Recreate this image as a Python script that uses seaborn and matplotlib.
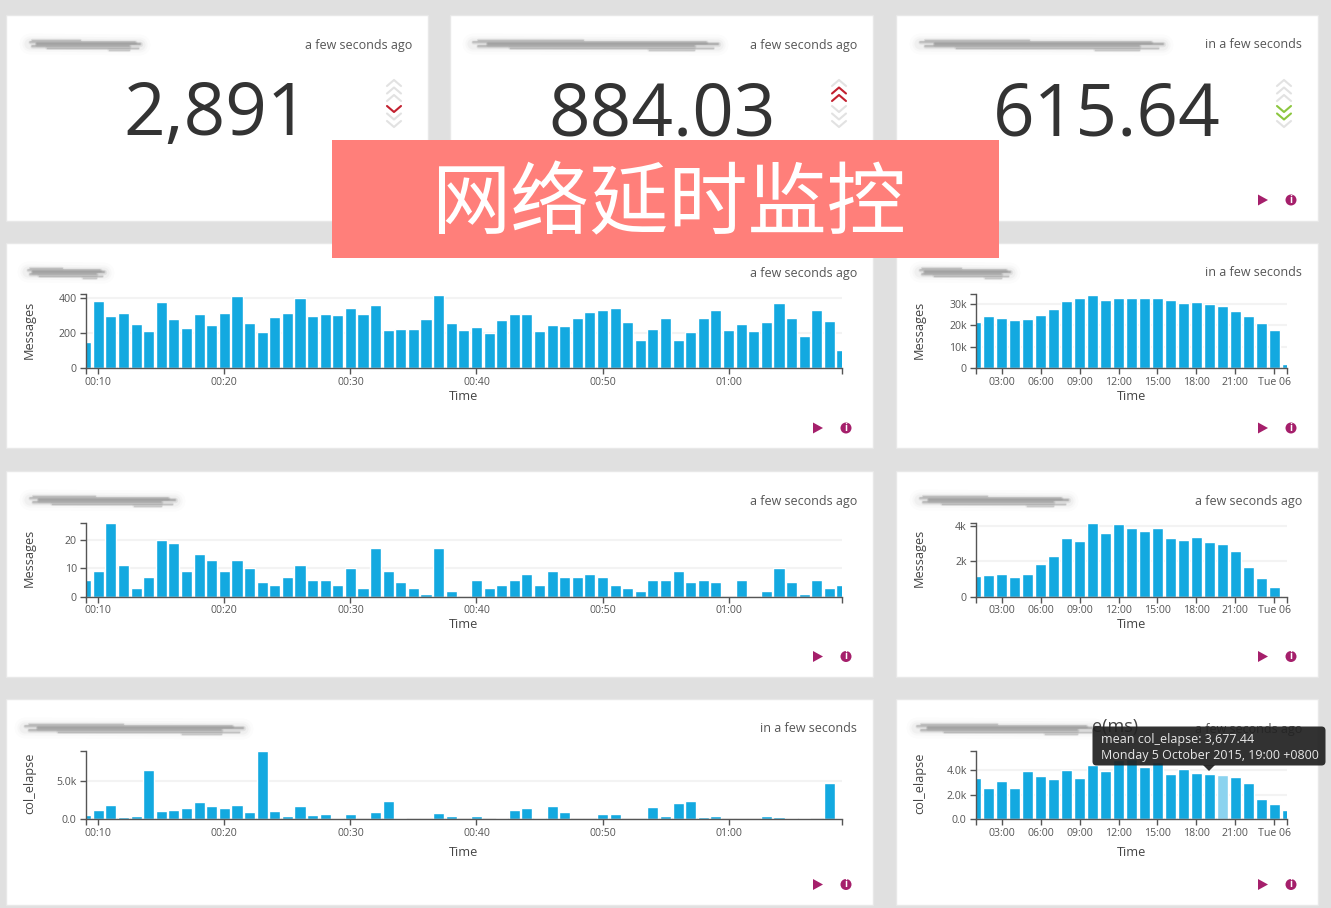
import matplotlib
matplotlib.use('Agg')
import matplotlib.pyplot as plt
from matplotlib.patches import Rectangle, FancyBboxPatch, Polygon, Circle
import numpy as np
import seaborn as sns

sns.set_theme(style='white')
plt.rcParams['font.family'] = ['Open Sans', 'DejaVu Sans']

W, H = 1331, 908

# ---- data ----
messages_minute = [152, 383, 299, 318, 253, 211, 377, 282, 229, 312, 246, 318, 413, 259, 206, 293,
                   318, 400, 299, 312, 307, 343, 312, 360, 217, 223, 223, 282, 419, 259, 217, 234,
                   200, 276, 312, 312, 211, 246, 240, 288, 324, 335, 347, 265, 164, 223, 288, 164,
                   206, 288, 335, 217, 251, 211, 265, 371, 288, 187, 335, 270, 105]
errors_minute = [6, 9, 26, 11, 3, 7, 20, 19, 9, 15, 13, 9, 13, 10, 5, 4, 7, 11, 6, 6, 4, 10, 3, 17,
                 9, 5, 3, 1, 17, 2, 0, 6, 3, 4, 6, 8, 4, 9, 7, 7, 8, 7, 4, 3, 2, 6, 6, 9, 5, 6, 5,
                 0, 6, 0, 2, 10, 5, 1, 6, 3, 4]
elapse_minute = [610, 1260, 1830, 300, 480, 6430, 1130, 1260, 1435, 2220, 1700, 1435, 1830, 1000,
                 8870, 1130, 480, 1700, 610, 740, 220, 740, 90, 1000, 2350, 220, 80, 80, 870, 480,
                 40, 480, 40, 220, 1170, 1435, 220, 1700, 1000, 40, 40, 740, 740, 40, 40, 1570,
                 480, 2090, 2350, 350, 480, 40, 40, 40, 480, 350, 220, 220, 40, 4785, 170]
messages_hour = [21600, 24400, 23500, 22500, 23000, 25000, 27800, 31300, 32650, 34200, 31700, 32650,
                 32650, 32650, 32650, 31700, 30300, 30800, 29900, 28900, 26900, 24400, 21100, 17700, 2200]
errors_hour = [1165, 1220, 1280, 1110, 1280, 1860, 2275, 3330, 3160, 4135, 3570, 4100, 3850, 3685,
               3850, 3330, 3215, 3385, 3100, 2990, 2575, 1690, 1050, 525, 40]
elapse_hour = [3320, 2570, 3080, 2570, 3920, 3510, 3240, 4000, 3320, 4430, 3920, 4800, 4900, 4270,
               4670, 3672, 4080, 3750, 3677, 3560, 3400, 2920, 1650, 1215, 730]

minute_ticks = [0, 1, 11, 21, 31, 41, 51, 60]
minute_labels = ['', '00:10', '00:20', '00:30', '00:40', '00:50', '01:00', '']
hour_ticks = [0, 2, 5, 8, 11, 14, 17, 20, 23, 24]
hour_labels = ['', '03:00', '06:00', '09:00', '12:00', '15:00', '18:00', '21:00', 'Tue 06', '']

big_numbers = ['2,891', '884.03', '615.64']
stamp_ago = 'a few seconds ago'
stamp_in = 'in a few seconds'
tooltip_lines = ['mean col_elapse: 3,677.44', 'Monday 5 October 2015, 19:00 +0800']
banner_text = '网络延时监控'

BLUE = '#13a9e0'
LIGHT_BLUE = '#8bd3ef'
PURPLE = '#a51f6b'
TEXT = '#555555'

fig = plt.figure(figsize=(W / 100, H / 100), dpi=100, facecolor='#e0e0e0')


def pixel_axes(zorder):
    ax = fig.add_axes([0, 0, 1, 1], zorder=zorder)
    ax.set_xlim(0, W)
    ax.set_ylim(H, 0)
    ax.axis('off')
    return ax


back = pixel_axes(-1)
front = pixel_axes(10)


def panel(x0, x1, y0, y1):
    back.add_patch(Rectangle((x0, y0), x1 - x0, y1 - y0, fc='white', ec='#e8e8e8', lw=1))


def smudge(ax, x0, x1, y):
    # the dashboard titles are blurred out in the screenshot
    for lw, a in [(15, .02), (11, .03), (8, .05)]:
        ax.plot([x0, x1], [y, y + 1], color='#777777', lw=lw, alpha=a, solid_capstyle='round')
    L = x1 - x0
    strokes = [(-4, .02, .45, .8, .16), (-2, .0, .95, 1.1, .2), (0, .06, 1.0, 1.3, .26),
               (2, .02, .9, 1.1, .22), (4, .15, .98, .9, .18), (6, .72, .9, .9, .16)]
    for dy, a, b, lw, alpha in strokes:
        # stacked widths to get the soft edge
        for k in [1, 2, 3]:
            ax.plot([x0 + a * L, x0 + b * L], [y + dy, y + dy], color='#555555', lw=lw * k, alpha=alpha / k,
                    solid_capstyle='round')


def stamp(right, y, text):
    back.text(right, y, text, ha='right', va='center', fontsize=9.0, color='#555555')


def icons(x_play, x_info, y):
    back.add_patch(Polygon([(x_play - 5, y - 5.5), (x_play + 5, y), (x_play - 5, y + 5.5)], fc=PURPLE, ec='none'))
    back.add_patch(Circle((x_info, y), 5.5, fc=PURPLE, ec='none'))
    back.text(x_info, y + .3, 'i', ha='center', va='center', fontsize=7, fontweight='bold', color='white')


def chevrons(x, y_mid, up_on, down_on, on_color):
    for i, y in enumerate([y_mid - 26, y_mid - 18.5, y_mid - 11]):
        color = on_color if i in up_on else '#e2e2e2'
        back.plot([x - 7, x, x + 7], [y + 3, y - 3, y + 3], color=color, lw=1.5, zorder=3 if i in up_on else 2)
    for i, y in enumerate([y_mid + 0, y_mid + 7.5, y_mid + 15]):
        color = on_color if i in down_on else '#e2e2e2'
        back.plot([x - 7, x, x + 7], [y - 3, y + 3, y - 3], color=color, lw=1.5, zorder=3 if i in down_on else 2)


def bars(x0, x1, y_top, y_base, values, ymax, yticks, ylabels, xticks, xlabels, ylabel, time_gap):
    ax = fig.add_axes([x0 / W, 1 - y_base / H, (x1 - x0) / W, (y_base - y_top) / H], facecolor='none')
    idx = np.arange(len(values))
    ax.hlines(yticks, 0, len(values) - 1, color='#f3f3f3', lw=1.5, zorder=0)
    sns.barplot(x=idx, y=values, ax=ax, color=BLUE, saturation=1, width=.88, native_scale=True, zorder=2)
    ax.set_xlim(0, len(values) - 1)
    ax.set_ylim(0, ymax)
    ax.set_xticks(xticks)
    ax.set_xticklabels(xlabels)
    ax.set_yticks(list(yticks) + [ymax])
    ax.set_yticklabels(list(ylabels) + [''])
    ax.tick_params(axis='x', length=4, width=1, color='#555555', labelsize=7.6, labelcolor=TEXT, pad=2.3, bottom=True)
    ax.tick_params(axis='y', length=4.5, width=1, color='#555555', labelsize=7.6, labelcolor=TEXT, pad=2, left=True)
    sns.despine(ax=ax)
    for s in ['left', 'bottom']:
        ax.spines[s].set_color('#555555')
        ax.spines[s].set_linewidth(1)
    h = y_base - y_top
    ax.set_xlabel('Time', fontsize=9.2, color='#444444', va='center')
    ax.xaxis.set_label_coords(.5, -(time_gap + 1) / h)
    ax.set_ylabel(ylabel, fontsize=9.2, color='#444444', va='center')
    ax.yaxis.set_label_coords(-56 / (x1 - x0), .52)
    return ax


# ---- panels ----
for x0, x1 in [(5.5, 428), (450, 873), (895.5, 1318)]:
    panel(x0, x1, 14.5, 220.5)
for y0, y1 in [(243, 448), (471, 677), (699, 905)]:
    panel(5.5, 873, y0, y1)
    panel(895.5, 1318, y0, y1)

for x0, x1, y in [(30, 140, 44), (473, 718, 44), (920, 1163, 44), (28, 104, 272), (920, 1010, 272),
                  (30, 175, 500), (920, 1068, 500), (25, 243, 728), (917, 1095, 728)]:
    smudge(back, x0, x1, y)
back.text(1092, 727, 'e(ms)', ha='left', va='center', fontsize=13, color='#444444')

stamp(412, 45, stamp_ago)
stamp(857, 45, stamp_ago)
stamp(1302, 45, stamp_in)
stamp(857, 273, stamp_ago)
stamp(1302, 273, stamp_in)
stamp(857, 501, stamp_ago)
stamp(1302, 501, stamp_ago)
stamp(857, 729, stamp_in)
stamp(1302, 729, stamp_ago)

for cx, num in zip([216, 662, 1107], big_numbers):
    back.text(cx, 135, num, ha='center', va='baseline', fontsize=52.5, color='#333333')

chevrons(394, 109, [], [0], '#c2202f')
chevrons(839, 109, [1, 2], [], '#c2202f')
chevrons(1284, 109, [], [0, 1], '#8cc63f')

icons(1263, 1291, 200)
for y in [428, 656.5, 884.5]:
    icons(818, 846, y)
    icons(1263, 1291, y)

# ---- charts ----
LX0, LX1, RX0, RX1 = 85.7, 842, 975.7, 1287.3

bars(LX0, LX1, 294.3, 368.3, messages_minute, 423, [0, 200, 400], ['0', '200', '400'],
     minute_ticks, minute_labels, 'Messages', 26.7)
bars(RX0, RX1, 294.3, 368.3, messages_hour, 34500, [0, 10000, 20000, 30000], ['0', '10k', '20k', '30k'],
     hour_ticks, hour_labels, 'Messages', 26.7)
bars(LX0, LX1, 522.7, 596.7, errors_minute, 26, [0, 10, 20], ['0', '10', '20'],
     minute_ticks, minute_labels, 'Messages', 26.7)
bars(RX0, RX1, 522.7, 596.7, errors_hour, 4170, [0, 2000, 4000], ['0', '2k', '4k'],
     hour_ticks, hour_labels, 'Messages', 26.7)
bars(LX0, LX1, 751, 819.3, elapse_minute, 8913, [0, 5000], ['0.0', '5.0k'],
     minute_ticks, minute_labels, 'col_elapse', 32.4)
ax = bars(RX0, RX1, 751, 819.3, elapse_hour, 5540, [0, 2000, 4000], ['0.0', '2.0k', '4.0k'],
          hour_ticks, hour_labels, 'col_elapse', 32.4)
ax.patches[19].set_facecolor(LIGHT_BLUE)

# ---- overlays ----
front.add_patch(Rectangle((332, 140), 667, 118, fc='#ff7f7a', ec='none'))
front.text(668, 206, banner_text, ha='center', va='center', fontsize=57, color='white',
           family=['Noto Sans CJK SC'], fontweight='light')

front.add_patch(FancyBboxPatch((1096, 730), 226, 32, boxstyle='round,pad=3.5,rounding_size=4',
                               fc='#222222', ec='none', alpha=.93))
front.add_patch(Polygon([(1203, 765), (1215, 765), (1209, 771)], fc='#222222', ec='none', alpha=.93))
front.text(1101, 739, tooltip_lines[0], ha='left', va='center', fontsize=9.0, color='#e8e8e8')
front.text(1101, 755, tooltip_lines[1], ha='left', va='center', fontsize=9.0, color='#e8e8e8')

fig.savefig('out.png', dpi=100, facecolor=fig.get_facecolor())
plt.close()
